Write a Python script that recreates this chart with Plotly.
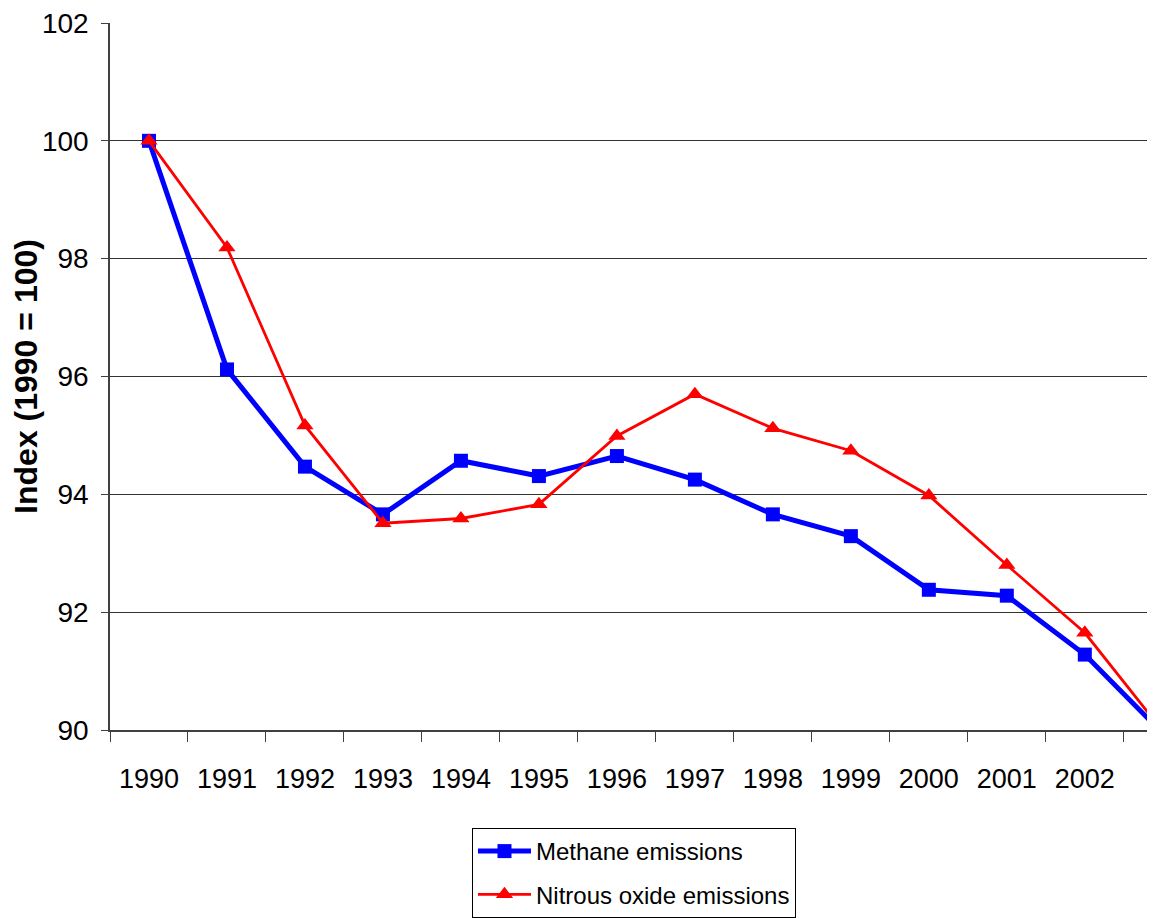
import plotly.graph_objects as go

years = ["1990", "1991", "1992", "1993", "1994", "1995", "1996", "1997",
         "1998", "1999", "2000", "2001", "2002", "2003"]
methane = [100.0, 96.12, 94.47, 93.66, 94.57, 94.31, 94.65, 94.25,
           93.66, 93.29, 92.38, 92.28, 91.28, 89.94]
nitrous = [100.0, 98.19, 95.17, 93.51, 93.59, 93.83, 94.99, 95.70,
           95.12, 94.74, 93.98, 92.80, 91.65, 89.98]
y_ticks = [90, 92, 94, 96, 98, 100, 102]

FONT = "Liberation Sans, Arial, sans-serif"
X_RANGE = [-0.5, 12.9]

fig = go.Figure()
fig.add_trace(go.Scatter(
    x=years, y=methane, name="Methane emissions", mode="lines+markers",
    legendgroup="m",
    line=dict(color="#0000FF", width=5),
    marker=dict(symbol="square", size=14, color="#0000FF"),
))
fig.add_trace(go.Scatter(
    x=years, y=nitrous, name="Nitrous oxide emissions", mode="lines+markers",
    legendgroup="n",
    line=dict(color="#FF0000", width=2.8),
    marker=dict(symbol="triangle-up", size=15, color="#FF0000"),
))

fig.update_layout(
    width=1147, height=910,
    margin=dict(l=102, r=0, t=12, b=186),
    paper_bgcolor="white", plot_bgcolor="white",
    font=dict(family=FONT, color="black"),
    showlegend=True,
    legend=dict(
        x=0.3464, y=-0.139, xanchor="left", yanchor="top",
        bgcolor="white", bordercolor="black", borderwidth=1,
        font=dict(family=FONT, size=24, color="black"),
        itemwidth=53, tracegroupgap=9,
    ),
    xaxis=dict(
        type="category", range=X_RANGE,
        showgrid=False, showline=True, linecolor="#404040", linewidth=2,
        ticks="outside", tickson="boundaries", ticklen=10, tickcolor="#404040",
        tickfont=dict(family=FONT, size=27, color="black"),
        ticklabelstandoff=24,
    ),
    yaxis=dict(
        range=[90, 102], tickvals=y_ticks, ticktext=[str(v) for v in y_ticks],
        showgrid=True, gridcolor="#333333", gridwidth=1,
        showline=True, linecolor="#404040", linewidth=1.5,
        ticks="outside", ticklen=7, tickcolor="#404040",
        tickfont=dict(family=FONT, size=28, color="black"),
        ticklabelstandoff=7, ticklabeloverflow="allow",
        zeroline=False,
        title=dict(text="<b>Index (1990 = 100)</b>",
                   font=dict(family=FONT, size=32, color="black"),
                   standoff=9),
    ),
)

fig.write_html("out.html")
